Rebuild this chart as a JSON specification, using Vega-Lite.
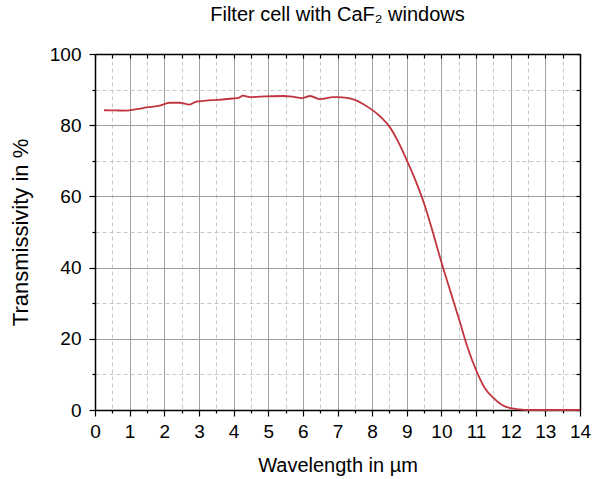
{
  "$schema": "https://vega.github.io/schema/vega-lite/v6.json",
  "width": 485,
  "height": 356,
  "autosize": {"type": "none"},
  "padding": {"left": 95, "top": 54, "right": 12, "bottom": 69},
  "background": "white",
  "config": {"view": {"stroke": null}, "font": "Liberation Sans"},
  "title": {"text": "Filter cell with CaF₂ windows", "fontSize": 20, "fontWeight": "normal", "font": "Liberation Sans", "color": "black", "offset": 20, "anchor": "middle"},
  "data": {"values": [
    {"w": 0.26, "t": 84.2}, {"w": 0.6, "t": 84.15}, {"w": 0.9, "t": 84.1}, {"w": 1.2, "t": 84.5},
    {"w": 1.5, "t": 85.0}, {"w": 1.87, "t": 85.5}, {"w": 2.15, "t": 86.3}, {"w": 2.44, "t": 86.3},
    {"w": 2.73, "t": 85.8}, {"w": 2.92, "t": 86.6}, {"w": 3.2, "t": 86.9}, {"w": 3.5, "t": 87.1},
    {"w": 3.98, "t": 87.5}, {"w": 4.15, "t": 87.7}, {"w": 4.27, "t": 88.3}, {"w": 4.47, "t": 87.9},
    {"w": 4.95, "t": 88.1}, {"w": 5.43, "t": 88.2}, {"w": 5.7, "t": 88.0}, {"w": 5.97, "t": 87.6},
    {"w": 6.21, "t": 88.2}, {"w": 6.5, "t": 87.3}, {"w": 6.88, "t": 87.9}, {"w": 7.0, "t": 87.9},
    {"w": 7.27, "t": 87.7}, {"w": 7.5, "t": 87.1}, {"w": 7.75, "t": 85.9}, {"w": 8.0, "t": 84.3},
    {"w": 8.25, "t": 82.3}, {"w": 8.5, "t": 79.6}, {"w": 8.75, "t": 75.4}, {"w": 9.0, "t": 70.2},
    {"w": 9.25, "t": 64.5}, {"w": 9.5, "t": 58.0}, {"w": 9.75, "t": 50.0}, {"w": 10.0, "t": 41.5},
    {"w": 10.25, "t": 33.6}, {"w": 10.5, "t": 25.8}, {"w": 10.75, "t": 17.7}, {"w": 11.0, "t": 11.2},
    {"w": 11.25, "t": 6.2}, {"w": 11.5, "t": 3.4}, {"w": 11.75, "t": 1.4}, {"w": 12.0, "t": 0.5},
    {"w": 12.25, "t": 0.15}, {"w": 12.5, "t": 0.0}, {"w": 13.0, "t": 0.0}, {"w": 13.5, "t": 0.0}, {"w": 14.0, "t": 0.0}
  ]},
  "resolve": {"axis": {"x": "independent", "y": "independent"}},
  "layer": [
    {
      "mark": {"type": "line", "strokeOpacity": 0},
      "encoding": {
        "x": {"field": "w", "type": "quantitative", "scale": {"domain": [0, 14], "nice": false},
          "axis": {"orient": "bottom", "values": [0.5,1.5,2.5,3.5,4.5,5.5,6.5,7.5,8.5,9.5,10.5,11.5,12.5,13.5], "labels": false, "title": null, "domain": false, "tickSize": 3, "tickColor": "black", "tickWidth": 1.2, "grid": true, "gridColor": "#c8c8c8", "gridDash": [4, 3], "gridWidth": 1}},
        "y": {"field": "t", "type": "quantitative", "scale": {"domain": [0, 100], "nice": false},
          "axis": {"orient": "left", "values": [10,30,50,70,90], "labels": false, "title": null, "domain": false, "tickSize": 3, "tickColor": "black", "tickWidth": 1.2, "grid": true, "gridColor": "#c8c8c8", "gridDash": [4, 3], "gridWidth": 1}}
      }
    },
    {
      "mark": {"type": "line", "strokeOpacity": 0},
      "encoding": {
        "x": {"field": "w", "type": "quantitative",
          "axis": {"orient": "top", "values": [0,0.5,1,1.5,2,2.5,3,3.5,4,4.5,5,5.5,6,6.5,7,7.5,8,8.5,9,9.5,10,10.5,11,11.5,12,12.5,13,13.5,14], "labels": false, "title": null, "domain": true, "domainColor": "black", "domainWidth": 1.5, "tickSize": -4, "tickColor": "black", "tickWidth": 1.2, "grid": false}},
        "y": {"field": "t", "type": "quantitative",
          "axis": {"orient": "right", "values": [0,10,20,30,40,50,60,70,80,90,100], "labels": false, "title": null, "domain": true, "domainColor": "black", "domainWidth": 1.5, "tickSize": -4, "tickColor": "black", "tickWidth": 1.2, "grid": false}}
      }
    },
    {
      "mark": {"type": "line", "color": "#c1353f", "strokeWidth": 1.8, "interpolate": "monotone"},
      "encoding": {
        "x": {"field": "w", "type": "quantitative",
          "axis": {"orient": "bottom", "values": [0,1,2,3,4,5,6,7,8,9,10,11,12,13,14], "title": "Wavelength in µm", "titleFontSize": 20, "titleFontWeight": "normal", "titleColor": "black", "titleFont": "Liberation Sans", "titlePadding": 14, "labelFontSize": 19, "labelColor": "black", "labelFont": "Liberation Sans", "labelPadding": 6, "labelFlush": false, "labelOverlap": false, "domain": true, "domainColor": "black", "domainWidth": 1.5, "tickSize": 6, "tickColor": "black", "tickWidth": 1.2, "grid": true, "gridColor": "#a0a0a0", "gridWidth": 1}},
        "y": {"field": "t", "type": "quantitative",
          "axis": {"orient": "left", "values": [0,20,40,60,80,100], "title": "Transmissivity in %", "titleFontSize": 22, "titleFontWeight": "normal", "titleColor": "black", "titleFont": "Liberation Sans", "titlePadding": 17, "labelFontSize": 19, "labelColor": "black", "labelFont": "Liberation Sans", "labelPadding": 8, "labelFlush": false, "labelOverlap": false, "domain": true, "domainColor": "black", "domainWidth": 1.5, "tickSize": 6, "tickColor": "black", "tickWidth": 1.2, "grid": true, "gridColor": "#a0a0a0", "gridWidth": 1}}
      }
    }
  ]
}
